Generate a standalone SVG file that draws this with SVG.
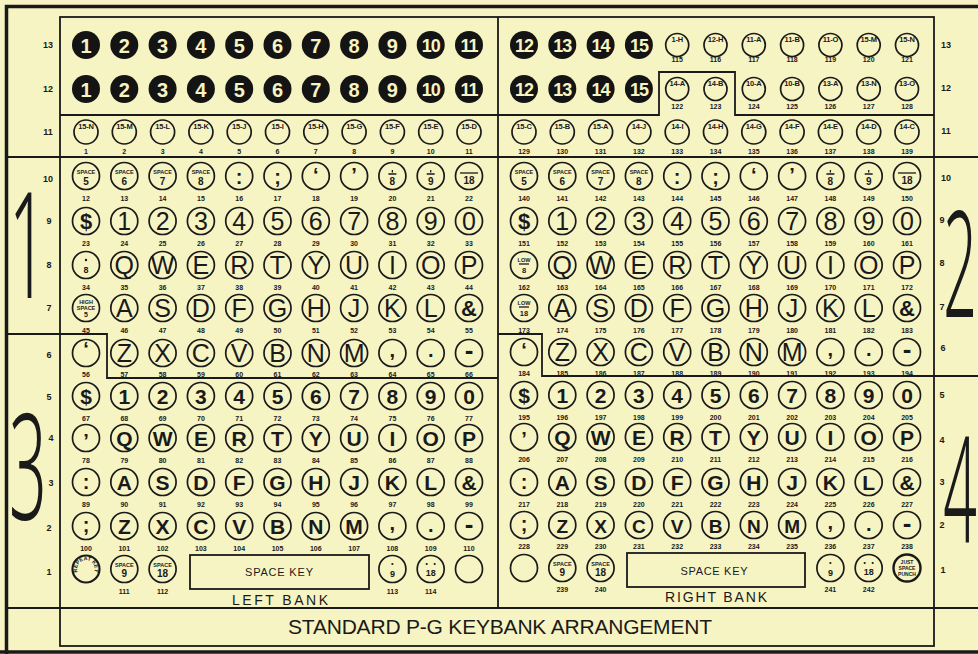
<svg xmlns="http://www.w3.org/2000/svg" width="978" height="654" viewBox="0 0 978 654">
<style>
text{font-family:"Liberation Sans",Arial,sans-serif;text-anchor:middle;fill:#1a1a1a}
.k{fill:none;stroke:#1a1a1a;stroke-width:1.7}
.bk{fill:#141414}
.ln{stroke:#1a1a1a;stroke-width:1.3;fill:none}
.fr{fill:none;stroke:#1a1a1a;stroke-width:1.8}
.th{fill:none;stroke:#1a1a1a;stroke-width:3.5}
.dt{fill:#1a1a1a}
.w{font-size:20px;font-weight:bold;fill:#f7f4c3}
.w2{font-size:18px;letter-spacing:-1px}
.b{font-size:25px}
.bs{font-size:22px;font-weight:bold}
.c{font-size:21px;font-weight:bold}
.p{font-size:20px;font-weight:bold}
.h{font-size:26px;font-weight:bold}
.n{font-size:7px;font-weight:bold}
.sl{font-size:7.5px;font-weight:bold;letter-spacing:-0.2px}
.sp{font-size:5.5px;font-weight:bold}
.d{font-size:10px;font-weight:bold}
.d9{font-size:9px;font-weight:bold}
.rl{font-size:9px;font-weight:bold}
.big{font-family:"Noto Sans","DejaVu Sans",sans-serif;font-size:147px;font-weight:300}
.lb{font-size:14px}
.sk{font-size:11px}
.tt{font-size:21px}
</style>
<defs>
<path id="arc" d="M-7.6,4.4 A8.8,8.8 0 1 1 7.6,4.4"/>
</defs>
<rect width="978" height="654" fill="#f7f4c3"/>

<g id="frame">
<path class="th" d="M6.5,654 V6.5 H978 M0,652 H978"/>
<rect class="fr" x="60" y="17" width="874" height="629"/>
<path class="fr" d="M6,157 H978 M6,608 H978 M498,17 V608"/>
<path class="fr" d="M60,115 H659 V72 H735 V115 H934"/>
<path class="fr" d="M6,334 H107 V378 H498"/>
<path class="fr" d="M498,334 H542 V376 H978"/>
</g>

<g id="region-numbers">
<text class="big" transform="translate(28,298) scale(0.45,1)">1</text>
<text class="big" transform="translate(960,317) scale(0.4,1)">2</text>
<text class="big" transform="translate(28,520) scale(0.45,1)">3</text>
<text class="big" transform="translate(960,542) scale(0.4,1)">4</text>
</g>

<g id="row-labels-left">
<text class="rl" x="48" y="48">13</text>
<text class="rl" x="48" y="92">12</text>
<text class="rl" x="48" y="135">11</text>
<text class="rl" x="48" y="182">10</text>
<text class="rl" x="49" y="224">9</text>
<text class="rl" x="49" y="268">8</text>
<text class="rl" x="49" y="311">7</text>
<text class="rl" x="49" y="358">6</text>
<text class="rl" x="49" y="400">5</text>
<text class="rl" x="51" y="441">4</text>
<text class="rl" x="51" y="486">3</text>
<text class="rl" x="49" y="531">2</text>
<text class="rl" x="49" y="575">1</text>
</g>
<g id="row-labels-right">
<text class="rl" x="946" y="48">13</text>
<text class="rl" x="946" y="91">12</text>
<text class="rl" x="946" y="134">11</text>
<text class="rl" x="946" y="181">10</text>
<text class="rl" x="942" y="223">9</text>
<text class="rl" x="942" y="266">8</text>
<text class="rl" x="942" y="310">7</text>
<text class="rl" x="943" y="351">6</text>
<text class="rl" x="942" y="398">5</text>
<text class="rl" x="942" y="443">4</text>
<text class="rl" x="942" y="485">3</text>
<text class="rl" x="942" y="528">2</text>
<text class="rl" x="943" y="573">1</text>
</g>

<!-- LEFT BANK row 13 -->
<g id="L13-1" transform="translate(86,45)"><circle r="14" class="bk"/><text class="w" y="7.5">1</text></g>
<g id="L13-2" transform="translate(124.3,45)"><circle r="14" class="bk"/><text class="w" y="7.5">2</text></g>
<g id="L13-3" transform="translate(162.6,45)"><circle r="14" class="bk"/><text class="w" y="7.5">3</text></g>
<g id="L13-4" transform="translate(200.9,45)"><circle r="14" class="bk"/><text class="w" y="7.5">4</text></g>
<g id="L13-5" transform="translate(239.2,45)"><circle r="14" class="bk"/><text class="w" y="7.5">5</text></g>
<g id="L13-6" transform="translate(277.5,45)"><circle r="14" class="bk"/><text class="w" y="7.5">6</text></g>
<g id="L13-7" transform="translate(315.8,45)"><circle r="14" class="bk"/><text class="w" y="7.5">7</text></g>
<g id="L13-8" transform="translate(354.1,45)"><circle r="14" class="bk"/><text class="w" y="7.5">8</text></g>
<g id="L13-9" transform="translate(392.4,45)"><circle r="14" class="bk"/><text class="w" y="7.5">9</text></g>
<g id="L13-10" transform="translate(430.7,45)"><circle r="14" class="bk"/><text class="w w2" y="7">10</text></g>
<g id="L13-11" transform="translate(469,45)"><circle r="14" class="bk"/><text class="w w2" y="7">11</text></g>
<!-- row 12 -->
<g id="L12-1" transform="translate(86,89)"><circle r="14" class="bk"/><text class="w" y="7.5">1</text></g>
<g id="L12-2" transform="translate(124.3,89)"><circle r="14" class="bk"/><text class="w" y="7.5">2</text></g>
<g id="L12-3" transform="translate(162.6,89)"><circle r="14" class="bk"/><text class="w" y="7.5">3</text></g>
<g id="L12-4" transform="translate(200.9,89)"><circle r="14" class="bk"/><text class="w" y="7.5">4</text></g>
<g id="L12-5" transform="translate(239.2,89)"><circle r="14" class="bk"/><text class="w" y="7.5">5</text></g>
<g id="L12-6" transform="translate(277.5,89)"><circle r="14" class="bk"/><text class="w" y="7.5">6</text></g>
<g id="L12-7" transform="translate(315.8,89)"><circle r="14" class="bk"/><text class="w" y="7.5">7</text></g>
<g id="L12-8" transform="translate(354.1,89)"><circle r="14" class="bk"/><text class="w" y="7.5">8</text></g>
<g id="L12-9" transform="translate(392.4,89)"><circle r="14" class="bk"/><text class="w" y="7.5">9</text></g>
<g id="L12-10" transform="translate(430.7,89)"><circle r="14" class="bk"/><text class="w w2" y="7">10</text></g>
<g id="L12-11" transform="translate(469,89)"><circle r="14" class="bk"/><text class="w w2" y="7">11</text></g>
<!-- row 11 -->
<g id="L11-1" transform="translate(86,132)"><circle r="12" class="k"/><text class="sl" y="-3">15-N</text><text class="n" y="22">1</text></g>
<g id="L11-2" transform="translate(124.3,132)"><circle r="12" class="k"/><text class="sl" y="-3">15-M</text><text class="n" y="22">2</text></g>
<g id="L11-3" transform="translate(162.6,132)"><circle r="12" class="k"/><text class="sl" y="-3">15-L</text><text class="n" y="22">3</text></g>
<g id="L11-4" transform="translate(200.9,132)"><circle r="12" class="k"/><text class="sl" y="-3">15-K</text><text class="n" y="22">4</text></g>
<g id="L11-5" transform="translate(239.2,132)"><circle r="12" class="k"/><text class="sl" y="-3">15-J</text><text class="n" y="22">5</text></g>
<g id="L11-6" transform="translate(277.5,132)"><circle r="12" class="k"/><text class="sl" y="-3">15-I</text><text class="n" y="22">6</text></g>
<g id="L11-7" transform="translate(315.8,132)"><circle r="12" class="k"/><text class="sl" y="-3">15-H</text><text class="n" y="22">7</text></g>
<g id="L11-8" transform="translate(354.1,132)"><circle r="12" class="k"/><text class="sl" y="-3">15-G</text><text class="n" y="22">8</text></g>
<g id="L11-9" transform="translate(392.4,132)"><circle r="12" class="k"/><text class="sl" y="-3">15-F</text><text class="n" y="22">9</text></g>
<g id="L11-10" transform="translate(430.7,132)"><circle r="12" class="k"/><text class="sl" y="-3">15-E</text><text class="n" y="22">10</text></g>
<g id="L11-11" transform="translate(469,132)"><circle r="12" class="k"/><text class="sl" y="-3">15-D</text><text class="n" y="22">11</text></g>
<!-- row 10 -->
<g id="L10-1" transform="translate(86,176)"><circle r="13.5" class="k"/><text class="sp" y="-2">SPACE</text><text class="d" y="8.5">5</text><text class="n" y="25">12</text></g>
<g id="L10-2" transform="translate(124.3,176)"><circle r="13.5" class="k"/><text class="sp" y="-2">SPACE</text><text class="d" y="8.5">6</text><text class="n" y="25">13</text></g>
<g id="L10-3" transform="translate(162.6,176)"><circle r="13.5" class="k"/><text class="sp" y="-2">SPACE</text><text class="d" y="8.5">7</text><text class="n" y="25">14</text></g>
<g id="L10-4" transform="translate(200.9,176)"><circle r="13.5" class="k"/><text class="sp" y="-2">SPACE</text><text class="d" y="8.5">8</text><text class="n" y="25">15</text></g>
<g id="L10-5" transform="translate(239.2,176)"><circle r="13.5" class="k"/><text class="p" y="8">:</text><text class="n" y="25">16</text></g>
<g id="L10-6" transform="translate(277.5,176)"><circle r="13.5" class="k"/><text class="p" y="8">;</text><text class="n" y="25">17</text></g>
<g id="L10-7" transform="translate(315.8,176)"><circle r="13.5" class="k"/><text class="p" y="5.5">‘</text><text class="n" y="25">18</text></g>
<g id="L10-8" transform="translate(354.1,176)"><circle r="13.5" class="k"/><text class="p" y="5.5">’</text><text class="n" y="25">19</text></g>
<g id="L10-9" transform="translate(392.4,176)"><circle r="13.5" class="k"/><path class="ln" d="M-4,-2H4M0,-6V-3.5"/><text class="d" y="8.5">8</text><text class="n" y="25">20</text></g>
<g id="L10-10" transform="translate(430.7,176)"><circle r="13.5" class="k"/><path class="ln" d="M-4,-2H4M0,-6V-3.5"/><text class="d" y="8.5">9</text><text class="n" y="25">21</text></g>
<g id="L10-11" transform="translate(469,176)"><circle r="13.5" class="k"/><path class="ln" d="M-9,-3H9"/><text class="d" y="8">18</text><text class="n" y="25">22</text></g>
<!-- row 9 -->
<g id="L9-1" transform="translate(86,221)"><circle r="13.5" class="k"/><text class="bs" y="7.5">$</text><text class="n" y="25">23</text></g>
<g id="L9-2" transform="translate(124.3,221)"><circle r="13.5" class="k"/><text class="b" y="9">1</text><text class="n" y="25">24</text></g>
<g id="L9-3" transform="translate(162.6,221)"><circle r="13.5" class="k"/><text class="b" y="9">2</text><text class="n" y="25">25</text></g>
<g id="L9-4" transform="translate(200.9,221)"><circle r="13.5" class="k"/><text class="b" y="9">3</text><text class="n" y="25">26</text></g>
<g id="L9-5" transform="translate(239.2,221)"><circle r="13.5" class="k"/><text class="b" y="9">4</text><text class="n" y="25">27</text></g>
<g id="L9-6" transform="translate(277.5,221)"><circle r="13.5" class="k"/><text class="b" y="9">5</text><text class="n" y="25">28</text></g>
<g id="L9-7" transform="translate(315.8,221)"><circle r="13.5" class="k"/><text class="b" y="9">6</text><text class="n" y="25">29</text></g>
<g id="L9-8" transform="translate(354.1,221)"><circle r="13.5" class="k"/><text class="b" y="9">7</text><text class="n" y="25">30</text></g>
<g id="L9-9" transform="translate(392.4,221)"><circle r="13.5" class="k"/><text class="b" y="9">8</text><text class="n" y="25">31</text></g>
<g id="L9-10" transform="translate(430.7,221)"><circle r="13.5" class="k"/><text class="b" y="9">9</text><text class="n" y="25">32</text></g>
<g id="L9-11" transform="translate(469,221)"><circle r="13.5" class="k"/><text class="b" y="9">0</text><text class="n" y="25">33</text></g>
<!-- row 8 -->
<g id="L8-1" transform="translate(86,265)"><circle r="13.5" class="k"/><circle class="dt" cy="-5" r="1.2"/><text class="d9" y="8">8</text><text class="n" y="25">34</text></g>
<g id="L8-2" transform="translate(124.3,265)"><circle r="13.5" class="k"/><text class="b" y="9">Q</text><text class="n" y="25">35</text></g>
<g id="L8-3" transform="translate(162.6,265)"><circle r="13.5" class="k"/><text class="b" y="9">W</text><text class="n" y="25">36</text></g>
<g id="L8-4" transform="translate(200.9,265)"><circle r="13.5" class="k"/><text class="b" y="9">E</text><text class="n" y="25">37</text></g>
<g id="L8-5" transform="translate(239.2,265)"><circle r="13.5" class="k"/><text class="b" y="9">R</text><text class="n" y="25">38</text></g>
<g id="L8-6" transform="translate(277.5,265)"><circle r="13.5" class="k"/><text class="b" y="9">T</text><text class="n" y="25">39</text></g>
<g id="L8-7" transform="translate(315.8,265)"><circle r="13.5" class="k"/><text class="b" y="9">Y</text><text class="n" y="25">40</text></g>
<g id="L8-8" transform="translate(354.1,265)"><circle r="13.5" class="k"/><text class="b" y="9">U</text><text class="n" y="25">41</text></g>
<g id="L8-9" transform="translate(392.4,265)"><circle r="13.5" class="k"/><text class="b" y="9">I</text><text class="n" y="25">42</text></g>
<g id="L8-10" transform="translate(430.7,265)"><circle r="13.5" class="k"/><text class="b" y="9">O</text><text class="n" y="25">43</text></g>
<g id="L8-11" transform="translate(469,265)"><circle r="13.5" class="k"/><text class="b" y="9">P</text><text class="n" y="25">44</text></g>
<!-- row 7 -->
<g id="L7-1" transform="translate(86,308)"><circle r="13.5" class="k"/><text class="sp" y="-4.5">HIGH</text><text class="sp" y="1.5">SPACE</text><text class="sp" y="9" style="font-size:7px">5</text><text class="n" y="25">45</text></g>
<g id="L7-2" transform="translate(124.3,308)"><circle r="13.5" class="k"/><text class="b" y="9">A</text><text class="n" y="25">46</text></g>
<g id="L7-3" transform="translate(162.6,308)"><circle r="13.5" class="k"/><text class="b" y="9">S</text><text class="n" y="25">47</text></g>
<g id="L7-4" transform="translate(200.9,308)"><circle r="13.5" class="k"/><text class="b" y="9">D</text><text class="n" y="25">48</text></g>
<g id="L7-5" transform="translate(239.2,308)"><circle r="13.5" class="k"/><text class="b" y="9">F</text><text class="n" y="25">49</text></g>
<g id="L7-6" transform="translate(277.5,308)"><circle r="13.5" class="k"/><text class="b" y="9">G</text><text class="n" y="25">50</text></g>
<g id="L7-7" transform="translate(315.8,308)"><circle r="13.5" class="k"/><text class="b" y="9">H</text><text class="n" y="25">51</text></g>
<g id="L7-8" transform="translate(354.1,308)"><circle r="13.5" class="k"/><text class="b" y="9">J</text><text class="n" y="25">52</text></g>
<g id="L7-9" transform="translate(392.4,308)"><circle r="13.5" class="k"/><text class="b" y="9">K</text><text class="n" y="25">53</text></g>
<g id="L7-10" transform="translate(430.7,308)"><circle r="13.5" class="k"/><text class="b" y="9">L</text><text class="n" y="25">54</text></g>
<g id="L7-11" transform="translate(469,308)"><circle r="13.5" class="k"/><text class="bs" y="8">&amp;</text><text class="n" y="25">55</text></g>
<!-- row 6 -->
<g id="L6-1" transform="translate(86,353)"><circle r="13.5" class="k"/><text class="p" y="3">‘</text><text class="n" y="24">56</text></g>
<g id="L6-2" transform="translate(124.3,353)"><circle r="13.5" class="k"/><text class="b" y="9">Z</text><text class="n" y="24">57</text></g>
<g id="L6-3" transform="translate(162.6,353)"><circle r="13.5" class="k"/><text class="b" y="9">X</text><text class="n" y="24">58</text></g>
<g id="L6-4" transform="translate(200.9,353)"><circle r="13.5" class="k"/><text class="b" y="9">C</text><text class="n" y="24">59</text></g>
<g id="L6-5" transform="translate(239.2,353)"><circle r="13.5" class="k"/><text class="b" y="9">V</text><text class="n" y="24">60</text></g>
<g id="L6-6" transform="translate(277.5,353)"><circle r="13.5" class="k"/><text class="b" y="9">B</text><text class="n" y="24">61</text></g>
<g id="L6-7" transform="translate(315.8,353)"><circle r="13.5" class="k"/><text class="b" y="9">N</text><text class="n" y="24">62</text></g>
<g id="L6-8" transform="translate(354.1,353)"><circle r="13.5" class="k"/><text class="b" y="9">M</text><text class="n" y="24">63</text></g>
<g id="L6-9" transform="translate(392.4,353)"><circle r="13.5" class="k"/><text class="p" y="4">,</text><text class="n" y="24">64</text></g>
<g id="L6-10" transform="translate(430.7,353)"><circle r="13.5" class="k"/><text class="p" y="4">.</text><text class="n" y="24">65</text></g>
<g id="L6-11" transform="translate(469,353)"><circle r="13.5" class="k"/><text class="h" y="6">-</text><text class="n" y="24">66</text></g>
<!-- row 5 -->
<g id="L5-1" transform="translate(86,396)"><circle r="13.5" class="k"/><text class="c" y="8">$</text><text class="n" y="25">67</text></g>
<g id="L5-2" transform="translate(124.3,396)"><circle r="13.5" class="k"/><text class="c" y="8">1</text><text class="n" y="25">68</text></g>
<g id="L5-3" transform="translate(162.6,396)"><circle r="13.5" class="k"/><text class="c" y="8">2</text><text class="n" y="25">69</text></g>
<g id="L5-4" transform="translate(200.9,396)"><circle r="13.5" class="k"/><text class="c" y="8">3</text><text class="n" y="25">70</text></g>
<g id="L5-5" transform="translate(239.2,396)"><circle r="13.5" class="k"/><text class="c" y="8">4</text><text class="n" y="25">71</text></g>
<g id="L5-6" transform="translate(277.5,396)"><circle r="13.5" class="k"/><text class="c" y="8">5</text><text class="n" y="25">72</text></g>
<g id="L5-7" transform="translate(315.8,396)"><circle r="13.5" class="k"/><text class="c" y="8">6</text><text class="n" y="25">73</text></g>
<g id="L5-8" transform="translate(354.1,396)"><circle r="13.5" class="k"/><text class="c" y="8">7</text><text class="n" y="25">74</text></g>
<g id="L5-9" transform="translate(392.4,396)"><circle r="13.5" class="k"/><text class="c" y="8">8</text><text class="n" y="25">75</text></g>
<g id="L5-10" transform="translate(430.7,396)"><circle r="13.5" class="k"/><text class="c" y="8">9</text><text class="n" y="25">76</text></g>
<g id="L5-11" transform="translate(469,396)"><circle r="13.5" class="k"/><text class="c" y="8">0</text><text class="n" y="25">77</text></g>
<!-- row 4 -->
<g id="L4-1" transform="translate(86,438)"><circle r="13.5" class="k"/><text class="p" y="10">’</text><text class="n" y="25">78</text></g>
<g id="L4-2" transform="translate(124.3,438)"><circle r="13.5" class="k"/><text class="c" y="8">Q</text><text class="n" y="25">79</text></g>
<g id="L4-3" transform="translate(162.6,438)"><circle r="13.5" class="k"/><text class="c" y="8">W</text><text class="n" y="25">80</text></g>
<g id="L4-4" transform="translate(200.9,438)"><circle r="13.5" class="k"/><text class="c" y="8">E</text><text class="n" y="25">81</text></g>
<g id="L4-5" transform="translate(239.2,438)"><circle r="13.5" class="k"/><text class="c" y="8">R</text><text class="n" y="25">82</text></g>
<g id="L4-6" transform="translate(277.5,438)"><circle r="13.5" class="k"/><text class="c" y="8">T</text><text class="n" y="25">83</text></g>
<g id="L4-7" transform="translate(315.8,438)"><circle r="13.5" class="k"/><text class="c" y="8">Y</text><text class="n" y="25">84</text></g>
<g id="L4-8" transform="translate(354.1,438)"><circle r="13.5" class="k"/><text class="c" y="8">U</text><text class="n" y="25">85</text></g>
<g id="L4-9" transform="translate(392.4,438)"><circle r="13.5" class="k"/><text class="c" y="8">I</text><text class="n" y="25">86</text></g>
<g id="L4-10" transform="translate(430.7,438)"><circle r="13.5" class="k"/><text class="c" y="8">O</text><text class="n" y="25">87</text></g>
<g id="L4-11" transform="translate(469,438)"><circle r="13.5" class="k"/><text class="c" y="8">P</text><text class="n" y="25">88</text></g>
<!-- row 3 -->
<g id="L3-1" transform="translate(86,482)"><circle r="13.5" class="k"/><text class="p" y="6.5">:</text><text class="n" y="25">89</text></g>
<g id="L3-2" transform="translate(124.3,482)"><circle r="13.5" class="k"/><text class="c" y="8">A</text><text class="n" y="25">90</text></g>
<g id="L3-3" transform="translate(162.6,482)"><circle r="13.5" class="k"/><text class="c" y="8">S</text><text class="n" y="25">91</text></g>
<g id="L3-4" transform="translate(200.9,482)"><circle r="13.5" class="k"/><text class="c" y="8">D</text><text class="n" y="25">92</text></g>
<g id="L3-5" transform="translate(239.2,482)"><circle r="13.5" class="k"/><text class="c" y="8">F</text><text class="n" y="25">93</text></g>
<g id="L3-6" transform="translate(277.5,482)"><circle r="13.5" class="k"/><text class="c" y="8">G</text><text class="n" y="25">94</text></g>
<g id="L3-7" transform="translate(315.8,482)"><circle r="13.5" class="k"/><text class="c" y="8">H</text><text class="n" y="25">95</text></g>
<g id="L3-8" transform="translate(354.1,482)"><circle r="13.5" class="k"/><text class="c" y="8">J</text><text class="n" y="25">96</text></g>
<g id="L3-9" transform="translate(392.4,482)"><circle r="13.5" class="k"/><text class="c" y="8">K</text><text class="n" y="25">97</text></g>
<g id="L3-10" transform="translate(430.7,482)"><circle r="13.5" class="k"/><text class="c" y="8">L</text><text class="n" y="25">98</text></g>
<g id="L3-11" transform="translate(469,482)"><circle r="13.5" class="k"/><text class="c" y="8">&amp;</text><text class="n" y="25">99</text></g>
<!-- row 2 -->
<g id="L2-1" transform="translate(86,526)"><circle r="13.5" class="k"/><text class="p" y="5.5">;</text><text class="n" y="25">100</text></g>
<g id="L2-2" transform="translate(124.3,526)"><circle r="13.5" class="k"/><text class="c" y="8">Z</text><text class="n" y="25">101</text></g>
<g id="L2-3" transform="translate(162.6,526)"><circle r="13.5" class="k"/><text class="c" y="8">X</text><text class="n" y="25">102</text></g>
<g id="L2-4" transform="translate(200.9,526)"><circle r="13.5" class="k"/><text class="c" y="8">C</text><text class="n" y="25">103</text></g>
<g id="L2-5" transform="translate(239.2,526)"><circle r="13.5" class="k"/><text class="c" y="8">V</text><text class="n" y="25">104</text></g>
<g id="L2-6" transform="translate(277.5,526)"><circle r="13.5" class="k"/><text class="c" y="8">B</text><text class="n" y="25">105</text></g>
<g id="L2-7" transform="translate(315.8,526)"><circle r="13.5" class="k"/><text class="c" y="8">N</text><text class="n" y="25">106</text></g>
<g id="L2-8" transform="translate(354.1,526)"><circle r="13.5" class="k"/><text class="c" y="8">M</text><text class="n" y="25">107</text></g>
<g id="L2-9" transform="translate(392.4,526)"><circle r="13.5" class="k"/><text class="p" y="4">,</text><text class="n" y="25">108</text></g>
<g id="L2-10" transform="translate(430.7,526)"><circle r="13.5" class="k"/><text class="p" y="6">.</text><text class="n" y="25">109</text></g>
<g id="L2-11" transform="translate(469,526)"><circle r="13.5" class="k"/><text class="h" y="7">-</text><text class="n" y="25">110</text></g>
<!-- row 1 -->
<g id="L1-1" transform="translate(86,569)"><circle r="13.5" class="k" style="stroke-width:2.2"/><text class="sp" style="font-size:5.3px"><textPath href="#arc" startOffset="50%">REPEAT KEY</textPath></text></g>
<g id="L1-2" transform="translate(124.3,569)"><circle r="13.5" class="k"/><text class="sp" y="-2">SPACE</text><text class="d" y="8">9</text><text class="n" y="25">111</text></g>
<g id="L1-3" transform="translate(162.6,569)"><circle r="13.5" class="k"/><text class="sp" y="-2">SPACE</text><text class="d" y="8">18</text><text class="n" y="25">112</text></g>
<g id="L1-space"><rect x="190" y="555" width="179" height="34" class="fr"/><text class="sk" x="279" y="576" textLength="68">SPACE KEY</text></g>
<g id="L1-9" transform="translate(392.4,569)"><circle r="13.5" class="k"/><circle class="dt" cy="-5" r="1.1"/><text class="d9" y="8">9</text><text class="n" y="25">113</text></g>
<g id="L1-10" transform="translate(430.7,569)"><circle r="13.5" class="k"/><circle class="dt" cx="-4" cy="-5" r="1.1"/><circle class="dt" cx="4" cy="-5" r="1.1"/><text class="d9" y="7">18</text><text class="n" y="25">114</text></g>
<g id="L1-11" transform="translate(469,569)"><circle r="13.5" class="k"/></g>
<text id="left-bank" class="lb" x="280" y="605" textLength="96">LEFT BANK</text>

<!-- RIGHT BANK row 13 -->
<g id="R13-1" transform="translate(524,45)"><circle r="14" class="bk"/><text class="w w2" y="7">12</text></g>
<g id="R13-2" transform="translate(562.3,45)"><circle r="14" class="bk"/><text class="w w2" y="7">13</text></g>
<g id="R13-3" transform="translate(600.6,45)"><circle r="14" class="bk"/><text class="w w2" y="7">14</text></g>
<g id="R13-4" transform="translate(638.9,45)"><circle r="14" class="bk"/><text class="w w2" y="7">15</text></g>
<g id="R13-5" transform="translate(677.2,45)"><circle r="11.5" class="k"/><text class="sl" y="-3">1-H</text><text class="n" y="17">115</text></g>
<g id="R13-6" transform="translate(715.5,45)"><circle r="11.5" class="k"/><text class="sl" y="-3">12-H</text><text class="n" y="17">116</text></g>
<g id="R13-7" transform="translate(753.8,45)"><circle r="11.5" class="k"/><text class="sl" y="-3">11-A</text><text class="n" y="17">117</text></g>
<g id="R13-8" transform="translate(792.1,45)"><circle r="11.5" class="k"/><text class="sl" y="-3">11-B</text><text class="n" y="17">118</text></g>
<g id="R13-9" transform="translate(830.4,45)"><circle r="11.5" class="k"/><text class="sl" y="-3">11-O</text><text class="n" y="17">119</text></g>
<g id="R13-10" transform="translate(868.7,45)"><circle r="11.5" class="k"/><text class="sl" y="-3">15-M</text><text class="n" y="17">120</text></g>
<g id="R13-11" transform="translate(907,45)"><circle r="11.5" class="k"/><text class="sl" y="-3">15-N</text><text class="n" y="17">121</text></g>
<!-- row 12 -->
<g id="R12-1" transform="translate(524,89)"><circle r="14" class="bk"/><text class="w w2" y="7">12</text></g>
<g id="R12-2" transform="translate(562.3,89)"><circle r="14" class="bk"/><text class="w w2" y="7">13</text></g>
<g id="R12-3" transform="translate(600.6,89)"><circle r="14" class="bk"/><text class="w w2" y="7">14</text></g>
<g id="R12-4" transform="translate(638.9,89)"><circle r="14" class="bk"/><text class="w w2" y="7">15</text></g>
<g id="R12-5" transform="translate(677.2,89)"><circle r="11.5" class="k"/><text class="sl" y="-3">14-A</text><text class="n" y="20">122</text></g>
<g id="R12-6" transform="translate(715.5,89)"><circle r="11.5" class="k"/><text class="sl" y="-3">14-B</text><text class="n" y="20">123</text></g>
<g id="R12-7" transform="translate(753.8,89)"><circle r="11.5" class="k"/><text class="sl" y="-3">10-A</text><text class="n" y="20">124</text></g>
<g id="R12-8" transform="translate(792.1,89)"><circle r="11.5" class="k"/><text class="sl" y="-3">10-B</text><text class="n" y="20">125</text></g>
<g id="R12-9" transform="translate(830.4,89)"><circle r="11.5" class="k"/><text class="sl" y="-3">13-A</text><text class="n" y="20">126</text></g>
<g id="R12-10" transform="translate(868.7,89)"><circle r="11.5" class="k"/><text class="sl" y="-3">13-N</text><text class="n" y="20">127</text></g>
<g id="R12-11" transform="translate(907,89)"><circle r="11.5" class="k"/><text class="sl" y="-3">13-O</text><text class="n" y="20">128</text></g>
<!-- row 11 -->
<g id="R11-1" transform="translate(524,132)"><circle r="12" class="k"/><text class="sl" y="-3">15-C</text><text class="n" y="22">129</text></g>
<g id="R11-2" transform="translate(562.3,132)"><circle r="12" class="k"/><text class="sl" y="-3">15-B</text><text class="n" y="22">130</text></g>
<g id="R11-3" transform="translate(600.6,132)"><circle r="12" class="k"/><text class="sl" y="-3">15-A</text><text class="n" y="22">131</text></g>
<g id="R11-4" transform="translate(638.9,132)"><circle r="12" class="k"/><text class="sl" y="-3">14-J</text><text class="n" y="22">132</text></g>
<g id="R11-5" transform="translate(677.2,132)"><circle r="12" class="k"/><text class="sl" y="-3">14-I</text><text class="n" y="22">133</text></g>
<g id="R11-6" transform="translate(715.5,132)"><circle r="12" class="k"/><text class="sl" y="-3">14-H</text><text class="n" y="22">134</text></g>
<g id="R11-7" transform="translate(753.8,132)"><circle r="12" class="k"/><text class="sl" y="-3">14-G</text><text class="n" y="22">135</text></g>
<g id="R11-8" transform="translate(792.1,132)"><circle r="12" class="k"/><text class="sl" y="-3">14-F</text><text class="n" y="22">136</text></g>
<g id="R11-9" transform="translate(830.4,132)"><circle r="12" class="k"/><text class="sl" y="-3">14-E</text><text class="n" y="22">137</text></g>
<g id="R11-10" transform="translate(868.7,132)"><circle r="12" class="k"/><text class="sl" y="-3">14-D</text><text class="n" y="22">138</text></g>
<g id="R11-11" transform="translate(907,132)"><circle r="12" class="k"/><text class="sl" y="-3">14-C</text><text class="n" y="22">139</text></g>
<!-- row 10 -->
<g id="R10-1" transform="translate(524,176)"><circle r="13.5" class="k"/><text class="sp" y="-2">SPACE</text><text class="d" y="8.5">5</text><text class="n" y="25">140</text></g>
<g id="R10-2" transform="translate(562.3,176)"><circle r="13.5" class="k"/><text class="sp" y="-2">SPACE</text><text class="d" y="8.5">6</text><text class="n" y="25">141</text></g>
<g id="R10-3" transform="translate(600.6,176)"><circle r="13.5" class="k"/><text class="sp" y="-2">SPACE</text><text class="d" y="8.5">7</text><text class="n" y="25">142</text></g>
<g id="R10-4" transform="translate(638.9,176)"><circle r="13.5" class="k"/><text class="sp" y="-2">SPACE</text><text class="d" y="8.5">8</text><text class="n" y="25">143</text></g>
<g id="R10-5" transform="translate(677.2,176)"><circle r="13.5" class="k"/><text class="p" y="8">:</text><text class="n" y="25">144</text></g>
<g id="R10-6" transform="translate(715.5,176)"><circle r="13.5" class="k"/><text class="p" y="8">;</text><text class="n" y="25">145</text></g>
<g id="R10-7" transform="translate(753.8,176)"><circle r="13.5" class="k"/><text class="p" y="5.5">‘</text><text class="n" y="25">146</text></g>
<g id="R10-8" transform="translate(792.1,176)"><circle r="13.5" class="k"/><text class="p" y="5.5">’</text><text class="n" y="25">147</text></g>
<g id="R10-9" transform="translate(830.4,176)"><circle r="13.5" class="k"/><path class="ln" d="M-4,-2H4M0,-6V-3.5"/><text class="d" y="8.5">8</text><text class="n" y="25">148</text></g>
<g id="R10-10" transform="translate(868.7,176)"><circle r="13.5" class="k"/><path class="ln" d="M-4,-2H4M0,-6V-3.5"/><text class="d" y="8.5">9</text><text class="n" y="25">149</text></g>
<g id="R10-11" transform="translate(907,176)"><circle r="13.5" class="k"/><path class="ln" d="M-9,-3H9"/><text class="d" y="8">18</text><text class="n" y="25">150</text></g>
<!-- row 9 -->
<g id="R9-1" transform="translate(524,221)"><circle r="13.5" class="k"/><text class="bs" y="7.5">$</text><text class="n" y="25">151</text></g>
<g id="R9-2" transform="translate(562.3,221)"><circle r="13.5" class="k"/><text class="b" y="9">1</text><text class="n" y="25">152</text></g>
<g id="R9-3" transform="translate(600.6,221)"><circle r="13.5" class="k"/><text class="b" y="9">2</text><text class="n" y="25">153</text></g>
<g id="R9-4" transform="translate(638.9,221)"><circle r="13.5" class="k"/><text class="b" y="9">3</text><text class="n" y="25">154</text></g>
<g id="R9-5" transform="translate(677.2,221)"><circle r="13.5" class="k"/><text class="b" y="9">4</text><text class="n" y="25">155</text></g>
<g id="R9-6" transform="translate(715.5,221)"><circle r="13.5" class="k"/><text class="b" y="9">5</text><text class="n" y="25">156</text></g>
<g id="R9-7" transform="translate(753.8,221)"><circle r="13.5" class="k"/><text class="b" y="9">6</text><text class="n" y="25">157</text></g>
<g id="R9-8" transform="translate(792.1,221)"><circle r="13.5" class="k"/><text class="b" y="9">7</text><text class="n" y="25">158</text></g>
<g id="R9-9" transform="translate(830.4,221)"><circle r="13.5" class="k"/><text class="b" y="9">8</text><text class="n" y="25">159</text></g>
<g id="R9-10" transform="translate(868.7,221)"><circle r="13.5" class="k"/><text class="b" y="9">9</text><text class="n" y="25">160</text></g>
<g id="R9-11" transform="translate(907,221)"><circle r="13.5" class="k"/><text class="b" y="9">0</text><text class="n" y="25">161</text></g>
<!-- row 8 -->
<g id="R8-1" transform="translate(524,265)"><circle r="13.5" class="k"/><text class="sp" y="-3">LOW</text><path class="ln" d="M-5,-1H5"/><text class="sp" y="8" style="font-size:7.5px">8</text><text class="n" y="25">162</text></g>
<g id="R8-2" transform="translate(562.3,265)"><circle r="13.5" class="k"/><text class="b" y="9">Q</text><text class="n" y="25">163</text></g>
<g id="R8-3" transform="translate(600.6,265)"><circle r="13.5" class="k"/><text class="b" y="9">W</text><text class="n" y="25">164</text></g>
<g id="R8-4" transform="translate(638.9,265)"><circle r="13.5" class="k"/><text class="b" y="9">E</text><text class="n" y="25">165</text></g>
<g id="R8-5" transform="translate(677.2,265)"><circle r="13.5" class="k"/><text class="b" y="9">R</text><text class="n" y="25">166</text></g>
<g id="R8-6" transform="translate(715.5,265)"><circle r="13.5" class="k"/><text class="b" y="9">T</text><text class="n" y="25">167</text></g>
<g id="R8-7" transform="translate(753.8,265)"><circle r="13.5" class="k"/><text class="b" y="9">Y</text><text class="n" y="25">168</text></g>
<g id="R8-8" transform="translate(792.1,265)"><circle r="13.5" class="k"/><text class="b" y="9">U</text><text class="n" y="25">169</text></g>
<g id="R8-9" transform="translate(830.4,265)"><circle r="13.5" class="k"/><text class="b" y="9">I</text><text class="n" y="25">170</text></g>
<g id="R8-10" transform="translate(868.7,265)"><circle r="13.5" class="k"/><text class="b" y="9">O</text><text class="n" y="25">171</text></g>
<g id="R8-11" transform="translate(907,265)"><circle r="13.5" class="k"/><text class="b" y="9">P</text><text class="n" y="25">172</text></g>
<!-- row 7 -->
<g id="R7-1" transform="translate(524,308)"><circle r="13.5" class="k"/><text class="sp" y="-3">LOW</text><path class="ln" d="M-5,-1H5"/><text class="sp" y="8" style="font-size:7.5px">18</text><text class="n" y="25">173</text></g>
<g id="R7-2" transform="translate(562.3,308)"><circle r="13.5" class="k"/><text class="b" y="9">A</text><text class="n" y="25">174</text></g>
<g id="R7-3" transform="translate(600.6,308)"><circle r="13.5" class="k"/><text class="b" y="9">S</text><text class="n" y="25">175</text></g>
<g id="R7-4" transform="translate(638.9,308)"><circle r="13.5" class="k"/><text class="b" y="9">D</text><text class="n" y="25">176</text></g>
<g id="R7-5" transform="translate(677.2,308)"><circle r="13.5" class="k"/><text class="b" y="9">F</text><text class="n" y="25">177</text></g>
<g id="R7-6" transform="translate(715.5,308)"><circle r="13.5" class="k"/><text class="b" y="9">G</text><text class="n" y="25">178</text></g>
<g id="R7-7" transform="translate(753.8,308)"><circle r="13.5" class="k"/><text class="b" y="9">H</text><text class="n" y="25">179</text></g>
<g id="R7-8" transform="translate(792.1,308)"><circle r="13.5" class="k"/><text class="b" y="9">J</text><text class="n" y="25">180</text></g>
<g id="R7-9" transform="translate(830.4,308)"><circle r="13.5" class="k"/><text class="b" y="9">K</text><text class="n" y="25">181</text></g>
<g id="R7-10" transform="translate(868.7,308)"><circle r="13.5" class="k"/><text class="b" y="9">L</text><text class="n" y="25">182</text></g>
<g id="R7-11" transform="translate(907,308)"><circle r="13.5" class="k"/><text class="bs" y="8">&amp;</text><text class="n" y="25">183</text></g>
<!-- row 6 -->
<g id="R6-1" transform="translate(524,352)"><circle r="13.5" class="k"/><text class="p" y="5">‘</text><text class="n" y="24">184</text></g>
<g id="R6-2" transform="translate(562.3,352)"><circle r="13.5" class="k"/><text class="b" y="9">Z</text><text class="n" y="24">185</text></g>
<g id="R6-3" transform="translate(600.6,352)"><circle r="13.5" class="k"/><text class="b" y="9">X</text><text class="n" y="24">186</text></g>
<g id="R6-4" transform="translate(638.9,352)"><circle r="13.5" class="k"/><text class="b" y="9">C</text><text class="n" y="24">187</text></g>
<g id="R6-5" transform="translate(677.2,352)"><circle r="13.5" class="k"/><text class="b" y="9">V</text><text class="n" y="24">188</text></g>
<g id="R6-6" transform="translate(715.5,352)"><circle r="13.5" class="k"/><text class="b" y="9">B</text><text class="n" y="24">189</text></g>
<g id="R6-7" transform="translate(753.8,352)"><circle r="13.5" class="k"/><text class="b" y="9">N</text><text class="n" y="24">190</text></g>
<g id="R6-8" transform="translate(792.1,352)"><circle r="13.5" class="k"/><text class="b" y="9">M</text><text class="n" y="24">191</text></g>
<g id="R6-9" transform="translate(830.4,352)"><circle r="13.5" class="k"/><text class="p" y="4">,</text><text class="n" y="24">192</text></g>
<g id="R6-10" transform="translate(868.7,352)"><circle r="13.5" class="k"/><text class="p" y="4">.</text><text class="n" y="24">193</text></g>
<g id="R6-11" transform="translate(907,352)"><circle r="13.5" class="k"/><text class="h" y="6">-</text><text class="n" y="24">194</text></g>
<!-- row 5 -->
<g id="R5-1" transform="translate(524,395)"><circle r="13.5" class="k"/><text class="c" y="8">$</text><text class="n" y="25">195</text></g>
<g id="R5-2" transform="translate(562.3,395)"><circle r="13.5" class="k"/><text class="c" y="8">1</text><text class="n" y="25">196</text></g>
<g id="R5-3" transform="translate(600.6,395)"><circle r="13.5" class="k"/><text class="c" y="8">2</text><text class="n" y="25">197</text></g>
<g id="R5-4" transform="translate(638.9,395)"><circle r="13.5" class="k"/><text class="c" y="8">3</text><text class="n" y="25">198</text></g>
<g id="R5-5" transform="translate(677.2,395)"><circle r="13.5" class="k"/><text class="c" y="8">4</text><text class="n" y="25">199</text></g>
<g id="R5-6" transform="translate(715.5,395)"><circle r="13.5" class="k"/><text class="c" y="8">5</text><text class="n" y="25">200</text></g>
<g id="R5-7" transform="translate(753.8,395)"><circle r="13.5" class="k"/><text class="c" y="8">6</text><text class="n" y="25">201</text></g>
<g id="R5-8" transform="translate(792.1,395)"><circle r="13.5" class="k"/><text class="c" y="8">7</text><text class="n" y="25">202</text></g>
<g id="R5-9" transform="translate(830.4,395)"><circle r="13.5" class="k"/><text class="c" y="8">8</text><text class="n" y="25">203</text></g>
<g id="R5-10" transform="translate(868.7,395)"><circle r="13.5" class="k"/><text class="c" y="8">9</text><text class="n" y="25">204</text></g>
<g id="R5-11" transform="translate(907,395)"><circle r="13.5" class="k"/><text class="c" y="8">0</text><text class="n" y="25">205</text></g>
<!-- row 4 -->
<g id="R4-1" transform="translate(524,437)"><circle r="13.5" class="k"/><text class="p" y="9">’</text><text class="n" y="25">206</text></g>
<g id="R4-2" transform="translate(562.3,437)"><circle r="13.5" class="k"/><text class="c" y="8">Q</text><text class="n" y="25">207</text></g>
<g id="R4-3" transform="translate(600.6,437)"><circle r="13.5" class="k"/><text class="c" y="8">W</text><text class="n" y="25">208</text></g>
<g id="R4-4" transform="translate(638.9,437)"><circle r="13.5" class="k"/><text class="c" y="8">E</text><text class="n" y="25">209</text></g>
<g id="R4-5" transform="translate(677.2,437)"><circle r="13.5" class="k"/><text class="c" y="8">R</text><text class="n" y="25">210</text></g>
<g id="R4-6" transform="translate(715.5,437)"><circle r="13.5" class="k"/><text class="c" y="8">T</text><text class="n" y="25">211</text></g>
<g id="R4-7" transform="translate(753.8,437)"><circle r="13.5" class="k"/><text class="c" y="8">Y</text><text class="n" y="25">212</text></g>
<g id="R4-8" transform="translate(792.1,437)"><circle r="13.5" class="k"/><text class="c" y="8">U</text><text class="n" y="25">213</text></g>
<g id="R4-9" transform="translate(830.4,437)"><circle r="13.5" class="k"/><text class="c" y="8">I</text><text class="n" y="25">214</text></g>
<g id="R4-10" transform="translate(868.7,437)"><circle r="13.5" class="k"/><text class="c" y="8">O</text><text class="n" y="25">215</text></g>
<g id="R4-11" transform="translate(907,437)"><circle r="13.5" class="k"/><text class="c" y="8">P</text><text class="n" y="25">216</text></g>
<!-- row 3 -->
<g id="R3-1" transform="translate(524,482)"><circle r="13.5" class="k"/><text class="p" y="6.5">:</text><text class="n" y="25">217</text></g>
<g id="R3-2" transform="translate(562.3,482)"><circle r="13.5" class="k"/><text class="c" y="8">A</text><text class="n" y="25">218</text></g>
<g id="R3-3" transform="translate(600.6,482)"><circle r="13.5" class="k"/><text class="c" y="8">S</text><text class="n" y="25">219</text></g>
<g id="R3-4" transform="translate(638.9,482)"><circle r="13.5" class="k"/><text class="c" y="8">D</text><text class="n" y="25">220</text></g>
<g id="R3-5" transform="translate(677.2,482)"><circle r="13.5" class="k"/><text class="c" y="8">F</text><text class="n" y="25">221</text></g>
<g id="R3-6" transform="translate(715.5,482)"><circle r="13.5" class="k"/><text class="c" y="8">G</text><text class="n" y="25">222</text></g>
<g id="R3-7" transform="translate(753.8,482)"><circle r="13.5" class="k"/><text class="c" y="8">H</text><text class="n" y="25">223</text></g>
<g id="R3-8" transform="translate(792.1,482)"><circle r="13.5" class="k"/><text class="c" y="8">J</text><text class="n" y="25">224</text></g>
<g id="R3-9" transform="translate(830.4,482)"><circle r="13.5" class="k"/><text class="c" y="8">K</text><text class="n" y="25">225</text></g>
<g id="R3-10" transform="translate(868.7,482)"><circle r="13.5" class="k"/><text class="c" y="8">L</text><text class="n" y="25">226</text></g>
<g id="R3-11" transform="translate(907,482)"><circle r="13.5" class="k"/><text class="c" y="8">&amp;</text><text class="n" y="25">227</text></g>
<!-- row 2 -->
<g id="R2-1" transform="translate(524,525)"><circle r="13.5" class="k"/><text class="p" y="5.5">;</text><text class="n" y="24">228</text></g>
<g id="R2-2" transform="translate(562.3,525)"><circle r="13.5" class="k"/><text class="c" y="7.5" style="font-size:19px">Z</text><text class="n" y="24">229</text></g>
<g id="R2-3" transform="translate(600.6,525)"><circle r="13.5" class="k"/><text class="c" y="7.5" style="font-size:19px">X</text><text class="n" y="24">230</text></g>
<g id="R2-4" transform="translate(638.9,525)"><circle r="13.5" class="k"/><text class="c" y="7.5" style="font-size:19px">C</text><text class="n" y="24">231</text></g>
<g id="R2-5" transform="translate(677.2,525)"><circle r="13.5" class="k"/><text class="c" y="7.5" style="font-size:19px">V</text><text class="n" y="24">232</text></g>
<g id="R2-6" transform="translate(715.5,525)"><circle r="13.5" class="k"/><text class="c" y="7.5" style="font-size:19px">B</text><text class="n" y="24">233</text></g>
<g id="R2-7" transform="translate(753.8,525)"><circle r="13.5" class="k"/><text class="c" y="7.5" style="font-size:19px">N</text><text class="n" y="24">234</text></g>
<g id="R2-8" transform="translate(792.1,525)"><circle r="13.5" class="k"/><text class="c" y="7.5" style="font-size:19px">M</text><text class="n" y="24">235</text></g>
<g id="R2-9" transform="translate(830.4,525)"><circle r="13.5" class="k"/><text class="p" y="4">,</text><text class="n" y="24">236</text></g>
<g id="R2-10" transform="translate(868.7,525)"><circle r="13.5" class="k"/><text class="p" y="6">.</text><text class="n" y="24">237</text></g>
<g id="R2-11" transform="translate(907,525)"><circle r="13.5" class="k"/><text class="h" y="7">-</text><text class="n" y="24">238</text></g>
<!-- row 1 -->
<g id="R1-1" transform="translate(524,568)"><circle r="13.5" class="k"/></g>
<g id="R1-2" transform="translate(562.3,568)"><circle r="13.5" class="k"/><text class="sp" y="-2">SPACE</text><text class="d" y="8">9</text><text class="n" y="24">239</text></g>
<g id="R1-3" transform="translate(600.6,568)"><circle r="13.5" class="k"/><text class="sp" y="-2">SPACE</text><text class="d" y="8">18</text><text class="n" y="24">240</text></g>
<g id="R1-space"><rect x="627" y="553" width="178" height="34" class="fr"/><text class="sk" x="714" y="575" textLength="67">SPACE KEY</text></g>
<g id="R1-9" transform="translate(830.4,568)"><circle r="13.5" class="k"/><circle class="dt" cy="-5" r="1.1"/><text class="d9" y="8">9</text><text class="n" y="24">241</text></g>
<g id="R1-10" transform="translate(868.7,568)"><circle r="13.5" class="k"/><circle class="dt" cx="-4" cy="-5" r="1.1"/><circle class="dt" cx="4" cy="-5" r="1.1"/><text class="d9" y="7">18</text><text class="n" y="24">242</text></g>
<g id="R1-11" transform="translate(907,568)"><circle r="13.5" class="k" style="stroke-width:2.4"/><text class="sp" y="-4.5" style="font-size:5px">JUST</text><text class="sp" y="1.5" style="font-size:5px">SPACE</text><text class="sp" y="7.5" style="font-size:5px">PUNCH</text></g>
<text id="right-bank" class="lb" x="716" y="602" textLength="102">RIGHT BANK</text>

<text id="title" class="tt" x="500" y="634" textLength="424">STANDARD P-G KEYBANK ARRANGEMENT</text>
</svg>
